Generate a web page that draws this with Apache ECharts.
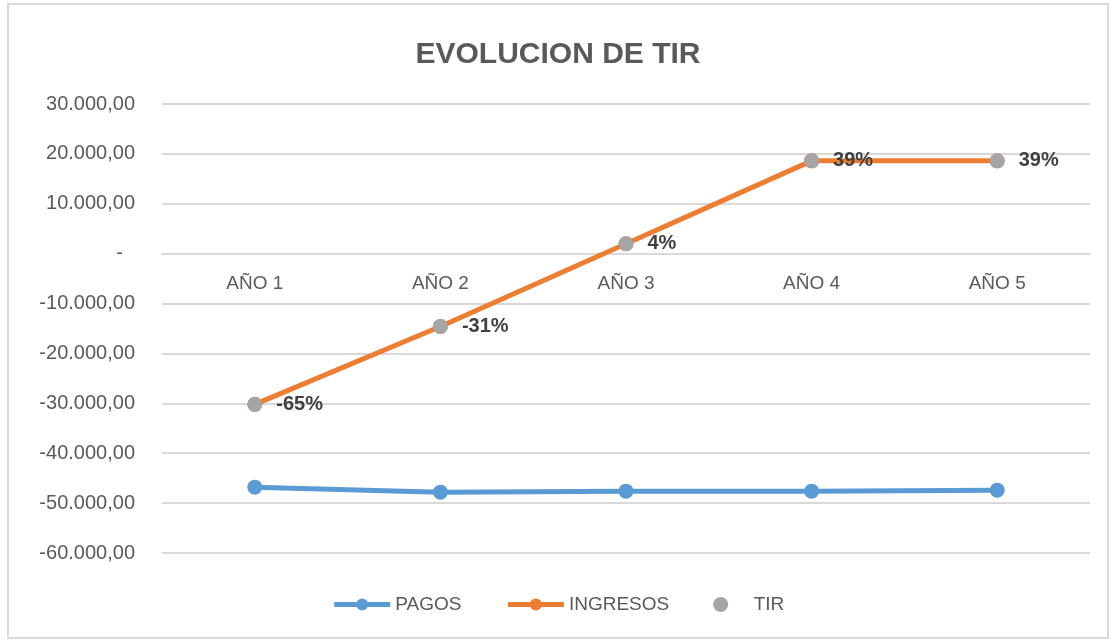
<!DOCTYPE html>
<html>
<head>
<meta charset="utf-8">
<script src="https://cdn.jsdelivr.net/npm/echarts@6/dist/echarts.min.js"></script>
<style>
  html, body { margin: 0; padding: 0; background: #fff; }
  #divChart { position: absolute; left: 7px; top: 3px; width: 1102px; height: 636px; border: 2px solid #d9d9d9; box-sizing: border-box; }
</style>
</head>
<body>
<div id="divChart"></div>
<script>
// datos del grafico
var categorias = ['AÑO 1', 'AÑO 2', 'AÑO 3', 'AÑO 4', 'AÑO 5'];
var pagos = [-46800, -47800, -47600, -47600, -47400];
var ingresos = [-30200, -14600, 2000, 18600, 18600];
var tir = ['-65%', '-31%', '4%', '39%', '39%'];

var ejeMin = -60000;
var ejeMax = 30000;
var ejeIntervalo = 10000;

var fuente = '"Liberation Sans", Arial, sans-serif';

/** formato numero estilo excel: 30.000,00 */
function formatoNum(v) {
  if (v === 0) return '{z|-}';
  var neg = v < 0;
  var s = Math.abs(v).toFixed(2).split('.');
  var ent = s[0].replace(/\B(?=(\d{3})+(?!\d))/g, '.');
  return (neg ? '-' : '') + ent + ',' + s[1];
}

var dom = document.getElementById('divChart');
var alto = dom.clientHeight;
var gridTop = 99;
var gridBottom = 84;
// desplazamiento del eje x hasta el cero
var altoGrid = alto - gridTop - gridBottom;
var offsetCero = -altoGrid * (0 - ejeMin) / (ejeMax - ejeMin);

var option = {
  backgroundColor: '#fff',
  animation: false,
  title: {
    text: 'EVOLUCION DE TIR',
    left: 'center',
    top: 30,
    textStyle: { fontFamily: fuente, fontSize: 30, fontWeight: 'bold', color: '#595959' }
  },
  grid: { left: 153, right: 17, top: gridTop, bottom: gridBottom },
  legend: {
    bottom: 18,
    left: 'center',
    itemWidth: 56,
    itemHeight: 15,
    itemGap: 44,
    lineStyle: { width: 5 },
    textStyle: { fontFamily: fuente, fontSize: 19, color: '#595959' },
    data: ['PAGOS', 'INGRESOS', 'TIR']
  },
  xAxis: {
    type: 'category',
    data: categorias,
    boundaryGap: true,
    position: 'bottom',
    offset: offsetCero,
    axisLine: { onZero: false, lineStyle: { color: '#d9d9d9', width: 2 } },
    axisTick: { show: false },
    axisLabel: { margin: 21, fontFamily: fuente, fontSize: 19, color: '#595959' }
  },
  yAxis: {
    type: 'value',
    min: ejeMin,
    max: ejeMax,
    interval: ejeIntervalo,
    axisLine: { show: false },
    axisTick: { show: false },
    splitLine: { lineStyle: { color: '#d9d9d9', width: 2 } },
    axisLabel: {
      margin: 27,
      fontFamily: fuente,
      fontSize: 20,
      color: '#595959',
      formatter: formatoNum,
      rich: { z: { fontFamily: fuente, fontSize: 20, color: '#595959', padding: [0, 12, 0, 0] } }
    }
  },
  series: [
    {
      name: 'PAGOS',
      type: 'line',
      data: pagos,
      symbol: 'circle',
      symbolSize: 15,
      itemStyle: { color: '#5b9bd5' },
      lineStyle: { color: '#5b9bd5', width: 5 }
    },
    {
      name: 'INGRESOS',
      type: 'line',
      data: ingresos,
      symbol: 'circle',
      symbolSize: 15,
      itemStyle: { color: '#ed7d31' },
      lineStyle: { color: '#ed7d31', width: 5 }
    },
    {
      name: 'TIR',
      type: 'scatter',
      data: ingresos,
      symbol: 'circle',
      symbolSize: 15,
      itemStyle: { color: '#a5a5a5', opacity: 1 },
      label: {
        show: true,
        position: 'right',
        distance: 14,
        fontFamily: fuente,
        fontSize: 20,
        fontWeight: 'bold',
        color: '#404040',
        formatter: function (p) { return tir[p.dataIndex]; }
      },
      z: 5
    }
  ]
};

var divChart = echarts.init(dom);
divChart.setOption(option);
</script>
</body>
</html>
